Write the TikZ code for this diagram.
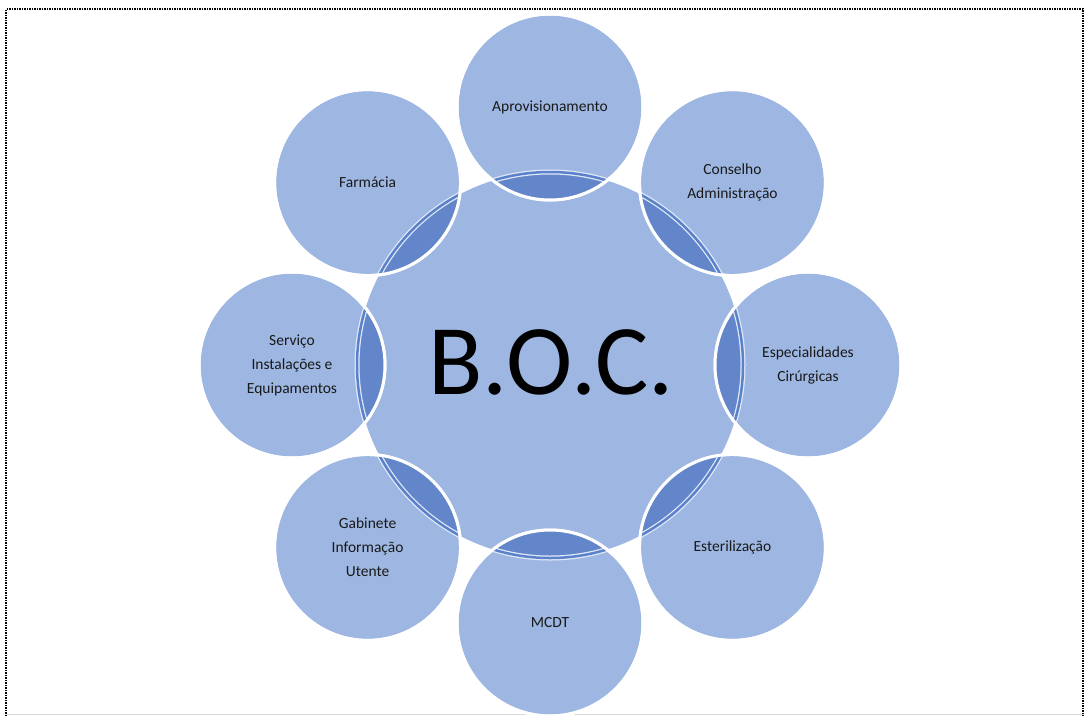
\documentclass[tikz,border=0pt]{standalone}
\usepackage{fontspec}
\setmainfont{Carlito}
\usetikzlibrary{calc}
\definecolor{bocfill}{RGB}{158,183,226}
\definecolor{bocdark}{RGB}{98,134,201}
\definecolor{bocedge}{RGB}{90,130,204}
\begin{document}
\begin{tikzpicture}[x=1pt,y=-1pt,
  hubdisc/.style={circle, minimum size=386pt, inner sep=0pt, fill=bocfill},
  satdisc/.style={circle, minimum size=186pt, inner sep=0pt, fill=bocfill,
    draw=white, line width=3pt, align=center,
    font=\fontsize{15.5}{24}\selectfont, text=black!90},
  frameline/.style={black, line width=2pt, dash pattern=on 1.5pt off 1pt},
]
\useasboundingbox (0,0) rectangle (1086,716);
\fill[white] (0,0) rectangle (1086,716);

% page frame
\draw[frameline] (6,716) -- (6,9) -- (1083,9) -- (1083,716);
\draw[black!15, line width=1pt] (6,714.5) -- (1083,714.5);

% central disc
\node[hubdisc] (hub) at (550,365) {};

% satellite discs around the hub
\foreach \ang/\nm/\txt in {
  90/aprov/{Aprovisionamento},
  45/conselho/{Conselho\\Administração},
  0/especial/{Especialidades\\Cirúrgicas},
  -45/ester/{Esterilização},
  -90/mcdt/{MCDT},
  -135/gabinete/{Gabinete\\Informação\\Utente},
  180/servico/{Serviço\\Instalações e\\Equipamentos},
  135/farmacia/{Farmácia}} {
  \node[satdisc] (\nm) at ($(550,365)+({258*cos(\ang)},{-258*sin(\ang)})$) {\txt};
}

% darker lens where each satellite overlaps the hub
\foreach \nm in {aprov,conselho,especial,ester,mcdt,gabinete,servico,farmacia} {
  \begin{scope}
    \clip (hub.center) circle[radius=193pt];
    \fill[bocdark] (\nm.center) circle[radius=93pt];
  \end{scope}
  \begin{scope}
    \clip (\nm.center) circle[radius=93pt];
    \draw[white!70!bocfill, line width=5pt] (hub.center) circle[radius=193pt];
    \draw[bocedge, line width=2.5pt] (hub.center) circle[radius=193pt];
  \end{scope}
  \draw[white, line width=3pt] (\nm.center) circle[radius=93pt];
}

% hub title
\node[font=\fontsize{100}{100}\selectfont, text=black] (boc) at (551,362) {B.O.C.};
\end{tikzpicture}
\end{document}
